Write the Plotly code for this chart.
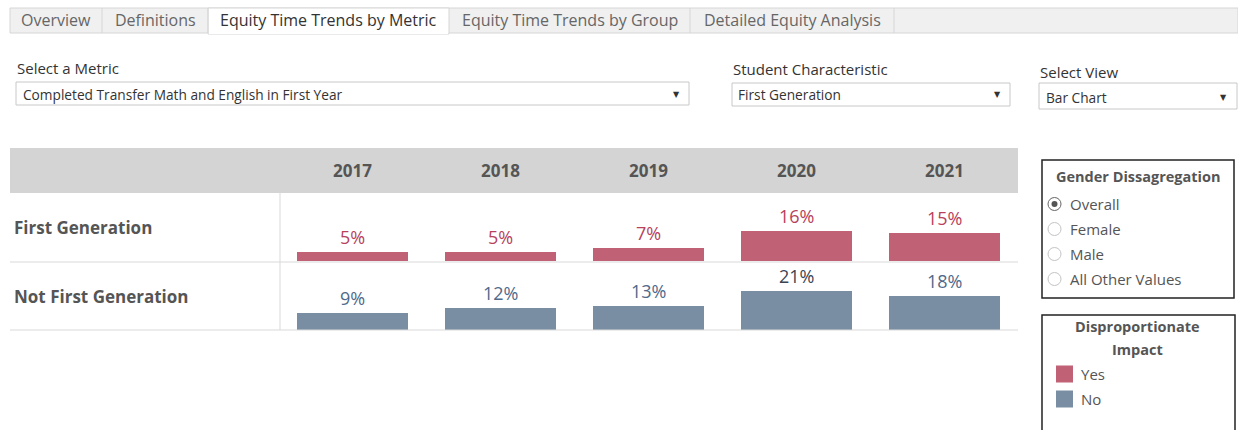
import plotly.graph_objects as go

# ---------------- data ----------------
years = ["2017", "2018", "2019", "2020", "2021"]
groups = ["First Generation", "Not First Generation"]
first_gen = [5, 5, 7, 16, 15]
not_first_gen = [9, 12, 13, 21, 18]
di_first_gen = ["Yes", "Yes", "Yes", "Yes", "Yes"]
di_not_first_gen = ["No", "No", "No", "No", "No"]
tabs = ["Overview", "Definitions", "Equity Time Trends by Metric",
        "Equity Time Trends by Group", "Detailed Equity Analysis"]
gender_options = ["Overall", "Female", "Male", "All Other Values"]
legend_items = ["Yes", "No"]

# ---------------- style ----------------
W, H = 1238, 430
FONT = "Open Sans"
DI_COLORS = {"Yes": "#c06175", "No": "#7a8ea3"}
DI_TEXT = {"Yes": "#b8415c", "No": "#4f6a8a"}
GREY_TXT = "#555555"


def X(px):
    return px / W


def Y(py):
    return 1 - py / H


shapes = []
ann = []


def rect(x0, y0, x1, y1, fill="rgba(0,0,0,0)", line="rgba(0,0,0,0)", lw=1):
    shapes.append(dict(type="rect", xref="paper", yref="paper",
                       x0=X(x0), x1=X(x1), y0=Y(y1), y1=Y(y0),
                       fillcolor=fill, line=dict(color=line, width=lw), layer="below"))


def line(x0, y0, x1, y1, color="#d9d9d9", lw=1):
    shapes.append(dict(type="line", xref="paper", yref="paper",
                       x0=X(x0), x1=X(x1), y0=Y(y0), y1=Y(y1),
                       line=dict(color=color, width=lw)))


def text(x, y, s, size=14, color="#333333", xanchor="left", bold=False, family=FONT):
    ann.append(dict(xref="paper", yref="paper", x=X(x), y=Y(y), text=("<b>%s</b>" % s) if bold else s,
                    showarrow=False, xanchor=xanchor, yanchor="middle",
                    font=dict(family=family, size=size, color=color)))


# ---------------- tabs ----------------
rect(10, 8, 1238, 33, fill="#f0f0f0", line="#d6d6d6")
tab_edges = [10, 102, 208, 449, 690, 894]
for i, t in enumerate(tabs):
    x0, x1 = tab_edges[i], tab_edges[i + 1]
    if i == 2:
        rect(x0, 8, x1, 34, fill="#ffffff", line="#d6d6d6")
        shapes.append(dict(type="line", xref="paper", yref="paper", x0=X(x0 + 1), x1=X(x1 - 1),
                           y0=Y(33), y1=Y(33), line=dict(color="#ffffff", width=2)))
        col = "#333333"
    else:
        line(x1, 8, x1, 33, color="#d6d6d6")
        col = "#666666"
    text((x0 + x1) / 2, 20, t, size=16, color=col, xanchor="center")

# ---------------- selectors ----------------
text(15, 68, "Select a Metric", size=15, color="#333333")
rect(16, 82, 689, 105, fill="#ffffff", line="#c8c8c8")
text(21, 94, "Completed Transfer Math and English in First Year", size=13.7, color="#333333")
text(676, 94, "▼", size=8, color="#333333", xanchor="center", family="DejaVu Sans")

text(731, 69, "Student Characteristic", size=15, color="#333333")
rect(732, 83, 1010, 106, fill="#ffffff", line="#c8c8c8")
text(736, 95, "First Generation", size=13.7, color="#333333")
text(997, 95, "▼", size=8, color="#333333", xanchor="center", family="DejaVu Sans")

text(1038, 72, "Select View", size=15, color="#333333")
rect(1039, 83, 1237, 109, fill="#ffffff", line="#c8c8c8")
text(1044, 97, "Bar Chart", size=13.7, color="#333333")
text(1223, 98, "▼", size=8, color="#333333", xanchor="center", family="DejaVu Sans")

# ---------------- table frame ----------------
rect(10, 148, 1018, 193, fill="#d4d4d4")
line(10, 262, 1018, 262)
line(10, 330, 1018, 330)
line(280, 193, 280, 330)
row_centers = [228, 296]
for g, yc in zip(groups, row_centers):
    text(12, yc, g, size=17, color=GREY_TXT, bold=True)

# ---------------- bars ----------------
YMAX = 36.3
row_domains = [(Y(261), Y(193)), (Y(330), Y(262))]
series = [(first_gen, di_first_gen), (not_first_gen, di_not_first_gen)]
fig = go.Figure()
for i, (vals, di) in enumerate(series):
    xa = "x" if i == 0 else "x2"
    ya = "y" if i == 0 else "y2"
    fig.add_trace(go.Bar(x=years, y=vals, xaxis=xa, yaxis=ya, width=0.75,
                         marker=dict(color=[DI_COLORS[d] for d in di], line=dict(width=0)),
                         hoverinfo="skip", showlegend=False))
    for j, (v, d) in enumerate(zip(vals, di)):
        col = DI_TEXT[d]
        if i == 1 and v == max(not_first_gen):
            col = "#3d4451"
        ann.append(dict(xref=xa, yref=ya, x=j, y=v, text="%d%%" % v, showarrow=False,
                        xanchor="center", yanchor="bottom", yshift=1,
                        font=dict(family=FONT, size=18, color=col)))

# year headers
for j, yr in enumerate(years):
    ann.append(dict(xref="x", yref="paper", x=j, y=Y(170), text="<b>%s</b>" % yr, showarrow=False,
                    xanchor="center", yanchor="middle", font=dict(family=FONT, size=17, color=GREY_TXT)))

# ---------------- gender legend ----------------
rect(1042, 160, 1234, 298, fill="#ffffff", line="#222222", lw=1.5)
text(1138, 177, "Gender Dissagregation", size=14.5, color=GREY_TXT, xanchor="center", bold=True)
for k, g in enumerate(gender_options):
    yc = 204 + 25 * k
    sel = (k == 0)
    shapes.append(dict(type="circle", xref="paper", yref="paper",
                       x0=X(1048), x1=X(1061), y0=Y(yc + 6.5), y1=Y(yc - 6.5),
                       fillcolor="#ffffff", line=dict(color="#666666" if sel else "#c4c4c4", width=1)))
    if sel:
        shapes.append(dict(type="circle", xref="paper", yref="paper",
                           x0=X(1051.5), x1=X(1057.5), y0=Y(yc + 3), y1=Y(yc - 3),
                           fillcolor="#555555", line=dict(width=0)))
    text(1068, yc, g, size=15, color=GREY_TXT)

# ---------------- DI legend ----------------
shapes.append(dict(type="path", xref="paper", yref="paper",
                   path="M %f,%f L %f,%f L %f,%f L %f,%f" % (X(1042), Y(432), X(1042), Y(315),
                                                           X(1235), Y(315), X(1235), Y(432)),
                   line=dict(color="#222222", width=1.5)))
text(1137, 326, "Disproportionate", size=14.5, color=GREY_TXT, xanchor="center", bold=True)
text(1137, 349, "Impact", size=14.5, color=GREY_TXT, xanchor="center", bold=True)
for k, it in enumerate(legend_items):
    yc = 374 + 25 * k
    rect(1056, yc - 8.5, 1073, yc + 8.5, fill=DI_COLORS[it])
    text(1079, yc, it, size=15, color=GREY_TXT)

axis_common = dict(showgrid=False, zeroline=False, showticklabels=False, showline=False, fixedrange=True)
fig.update_layout(
    width=W, height=H, margin=dict(l=0, r=0, t=0, b=0),
    paper_bgcolor="#ffffff", plot_bgcolor="rgba(0,0,0,0)",
    font=dict(family=FONT),
    bargap=0,
    xaxis=dict(domain=[X(278), X(1018)], type="category", categoryorder="array", categoryarray=years,
               range=[-0.5, 4.5], anchor="y", **axis_common),
    xaxis2=dict(domain=[X(278), X(1018)], type="category", categoryorder="array", categoryarray=years,
                range=[-0.5, 4.5], anchor="y2", **axis_common),
    yaxis=dict(domain=list(row_domains[0]), range=[0, YMAX], anchor="x", **axis_common),
    yaxis2=dict(domain=list(row_domains[1]), range=[0, YMAX], anchor="x2", **axis_common),
    shapes=shapes, annotations=ann,
)
fig.write_html("out.html", config={"displayModeBar": False},
               post_script="document.body.style.margin='0';document.body.style.overflow='hidden';")
